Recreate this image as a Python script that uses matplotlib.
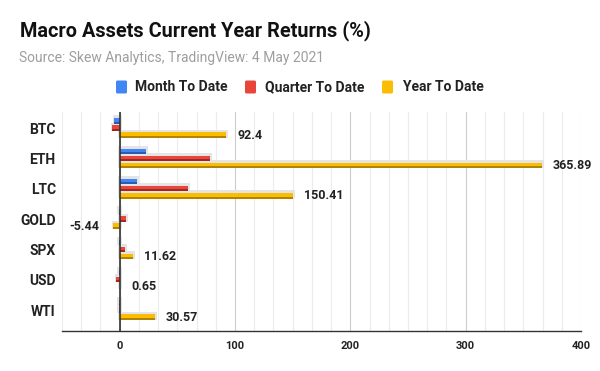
import matplotlib
matplotlib.use("Agg")
import matplotlib.pyplot as plt
import numpy as np
from matplotlib.patches import FancyBboxPatch
from matplotlib.ticker import MultipleLocator

plt.rcParams["font.family"] = ["Roboto", "DejaVu Sans"]

# ---------------------------------------------------------------------------
# Data
# ---------------------------------------------------------------------------
ASSETS = ["BTC", "ETH", "LTC", "GOLD", "SPX", "USD", "WTI"]
MONTH_TO_DATE = [-4.5, 23.0, 14.7, -0.8, -0.7, -0.6, -0.8]
QUARTER_TO_DATE = [-6.5, 78.5, 59.0, 5.5, 5.0, -2.8, -0.8]
YEAR_TO_DATE = [92.4, 365.89, 150.41, -5.44, 11.62, 0.65, 30.57]
SERIES = ["Month To Date", "Quarter To Date", "Year To Date"]
X_TICKS = [0, 100, 200, 300, 400]

TITLE = "Macro Assets Current Year Returns (%)"
SUBTITLE = "Source: Skew Analytics, TradingView: 4 May 2021"

# ---------------------------------------------------------------------------
# Style
# ---------------------------------------------------------------------------
COLORS = ["#4285f4", "#e8453c", "#fbbc04"]
DARK = ["#2c5cb0", "#a3271e", "#b08400"]
TEXT = "#222222"
W, H = 600, 371          # px

BAR_H = 0.18
OFFSETS = [0.235, 0.0, -0.235]


def px_box(x0, y0, x1, y1):
    """pixel box (top-left origin) -> figure fraction rect"""
    return [x0 / W, 1 - y1 / H, (x1 - x0) / W, (y1 - y0) / H]


fig = plt.figure(figsize=(W / 100, H / 100), dpi=100)
ax = fig.add_axes(px_box(62, 112, 581, 331))

xmin, xmax = -50, 400
ax.set_xlim(xmin, xmax)
ax.set_ylim(-0.69, 6.53)
dx = (xmax - xmin) / (581 - 62)        # data units per pixel
dy = (6.53 + 0.69) / (331 - 112)

ypos = np.arange(len(ASSETS))[::-1]

for values, off, col, dk in zip([MONTH_TO_DATE, QUARTER_TO_DATE, YEAR_TO_DATE],
                                OFFSETS, COLORS, DARK):
    vals = np.array(values)
    yc = ypos + off
    lefts = np.minimum(vals, 0)
    widths = np.abs(vals)
    # soft grey shadow behind each bar
    ax.barh(yc + 1.5 * dy, widths + 3.5 * dx, left=lefts - 1.5 * dx,
            height=BAR_H + 2.5 * dy, color="#e4e4e4", zorder=2, lw=0)
    ax.barh(yc, vals, height=BAR_H, color=col, zorder=3, lw=0)
    ax.barh(yc - BAR_H / 2 + 1.0 * dy, vals, height=2.0 * dy,
            color=dk, zorder=4, lw=0)

for v, y in zip(YEAR_TO_DATE, ypos + OFFSETS[2]):
    pos = v >= 0
    ax.annotate(str(v), xy=(v, y), xytext=(8 if pos else -10, 0),
                textcoords="offset points", ha="left" if pos else "right",
                va="center", fontsize=9, fontweight="bold", color=TEXT)

# axes / grid
ax.axvline(0, color="#333333", lw=1.2, zorder=5)
ax.set_xticks(X_TICKS)
ax.xaxis.set_minor_locator(MultipleLocator(100 / 6))
ax.grid(which="minor", axis="x", color="#ececec", lw=0.8, zorder=0)
ax.grid(which="major", axis="x", color="#cccccc", lw=0.8, zorder=0)
ax.set_axisbelow(True)
ax.set_yticks(ypos)
ax.set_yticklabels(ASSETS)
for s in ["top", "right", "left"]:
    ax.spines[s].set_visible(False)
ax.spines["bottom"].set_color("#333333")
ax.spines["bottom"].set_linewidth(1.0)
ax.tick_params(axis="x", which="both", length=0, pad=7, labelsize=8,
               labelcolor=TEXT)
ax.tick_params(axis="y", length=0, pad=4.5, labelsize=10, labelcolor=TEXT)
for lbl in ax.get_xticklabels() + ax.get_yticklabels():
    lbl.set_fontweight("bold")

# title + subtitle
fig.text(20 / W, 1 - 31 / H, TITLE, fontsize=14.3, fontweight="bold",
         color="#111111", va="center", ha="left")
fig.text(19 / W, 1 - 58 / H, SUBTITLE, fontsize=10, color="#9e9e9e",
         va="center", ha="left")

# legend, drawn by hand to sit centred above the plot
leg_sq = [116, 245, 382]
leg_txt = [135, 265, 403]
for x0, xt, name, col in zip(leg_sq, leg_txt, SERIES, COLORS):
    sq = FancyBboxPatch((x0 / 100, (H - 93.5) / 100), 0.11, 0.13,
                        boxstyle="round,pad=0,rounding_size=0.015",
                        transform=fig.dpi_scale_trans, color=col, lw=0)
    fig.add_artist(sq)
    fig.text(xt / W, 1 - 87 / H, name, fontsize=10, fontweight="bold",
             color=TEXT, va="center", ha="left")

fig.savefig("out.png", dpi=100)
